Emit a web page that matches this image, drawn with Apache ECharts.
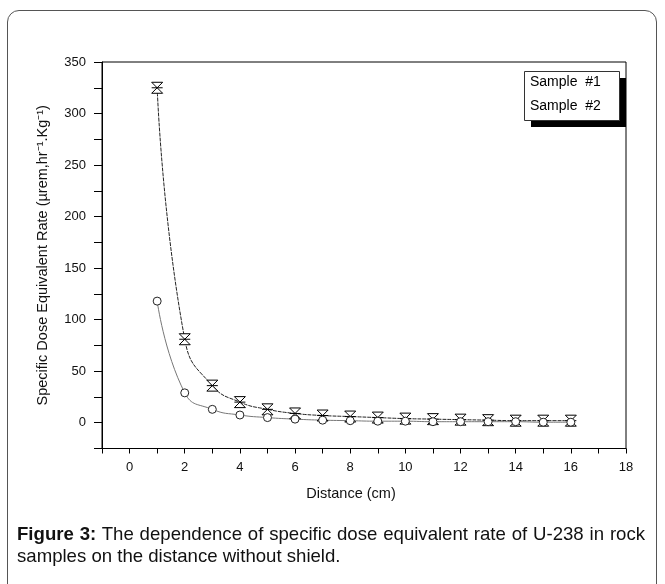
<!DOCTYPE html>
<html>
<head>
<meta charset="utf-8">
<script src="https://cdn.jsdelivr.net/npm/echarts@6/dist/echarts.min.js"></script>
<style>
html,body{margin:0;padding:0;background:#fff;}
#frame{position:absolute;left:7px;top:10px;width:650px;height:600px;border:1.5px solid #555;border-radius:12px;box-sizing:border-box;}
#chart{position:absolute;left:0;top:0;width:665px;height:584px;}
#caption{position:absolute;left:17px;top:523px;width:628px;font-family:"Liberation Sans",Arial,sans-serif;font-size:18.6px;line-height:22px;color:#111;text-align:justify;}
</style>
</head>
<body>
<div id="frame"></div>
<div id="chart"></div>
<div id="caption"><b>Figure 3:</b> The dependence of specific dose equivalent rate of U-238 in rock samples on the distance without shield.</div>
<script>
var distances = [1,2,3,4,5,6,7,8,9,10,11,12,13,14,15,16];
var sample1 = [325,81,36,20,13,9,7,6,5,4,3.5,3,2.5,2,2,2];
var sample2 = [118,29,13,7.5,5,3.5,2.5,2,1.5,1.5,1,1,1,1,0.5,0.5];
var seriesNames = ['Sample  #1','Sample  #2'];

function pairs(xs, ys){ return xs.map(function(x,i){ return [x, ys[i]]; }); }

var chart = echarts.init(document.getElementById('chart'), null, {renderer:'canvas'});
var font = '"Liberation Sans", Arial, sans-serif';
chart.setOption({
  animation:false,
  backgroundColor:'transparent',
  grid:{left:102, right:39, top:62, bottom:135.5, show:true, borderColor:'#000', borderWidth:1},
  graphic:[
    {type:'rect', left:531, top:78, shape:{width:95, height:49}, style:{fill:'#000'}, z:100},
    {type:'rect', left:524, top:71, shape:{width:95, height:49}, style:{fill:'#fff', stroke:'#333', lineWidth:1}, z:101},
    {type:'text', left:530, top:75, style:{text:seriesNames[0], font:'14px ' + font, fill:'#000'}, z:102},
    {type:'text', left:530, top:99, style:{text:seriesNames[1], font:'14px ' + font, fill:'#000'}, z:102}
  ],
  xAxis:{
    type:'value', min:-1, max:18, interval:1,
    name:'Distance (cm)', nameLocation:'middle', nameGap:38,
    nameTextStyle:{fontFamily:font, fontSize:14.5, color:'#111', padding:[0,26,0,0]},
    axisLine:{onZero:false, lineStyle:{color:'#000', width:1}},
    axisTick:{length:5, lineStyle:{color:'#000'}},
    axisLabel:{fontFamily:font, fontSize:13, color:'#111', margin:12,
      formatter:function(v){ return (v>=0 && v%2===0) ? String(v) : ''; }},
    splitLine:{show:false}
  },
  yAxis:{
    type:'value', min:-25, max:350, interval:25,
    name:'Specific Dose Equivalent Rate (µrem,hr\u207B\u00B9.Kg\u207B\u00B9)', nameLocation:'middle', nameGap:52,
    nameTextStyle:{fontFamily:font, fontSize:14.5, color:'#111'},
    axisLine:{onZero:false, lineStyle:{color:'#000', width:1}},
    axisTick:{length:8, lineStyle:{color:'#000'}},
    axisLabel:{fontFamily:font, fontSize:13, color:'#111', margin:16,
      formatter:function(v){ return (v>=0 && v%50===0) ? String(v) : ''; }},
    splitLine:{show:false}
  },
  series:[
    {
      name:seriesNames[0], type:'line', smooth:0.5, data:pairs(distances, sample1),
      symbol:'path://M0,0L10,0L0,10L10,10Z M0,5L10,5', symbolSize:11,
      itemStyle:{color:'#fff', borderColor:'#000', borderWidth:1},
      lineStyle:{color:'#222', width:1, type:[4,1]}
    },
    {
      name:seriesNames[1], type:'line', smooth:0.5, data:pairs(distances, sample2),
      symbol:'circle', symbolSize:8,
      itemStyle:{color:'#fff', borderColor:'#222', borderWidth:1},
      lineStyle:{color:'#777', width:1}
    }
  ]
});
</script>
</body>
</html>
